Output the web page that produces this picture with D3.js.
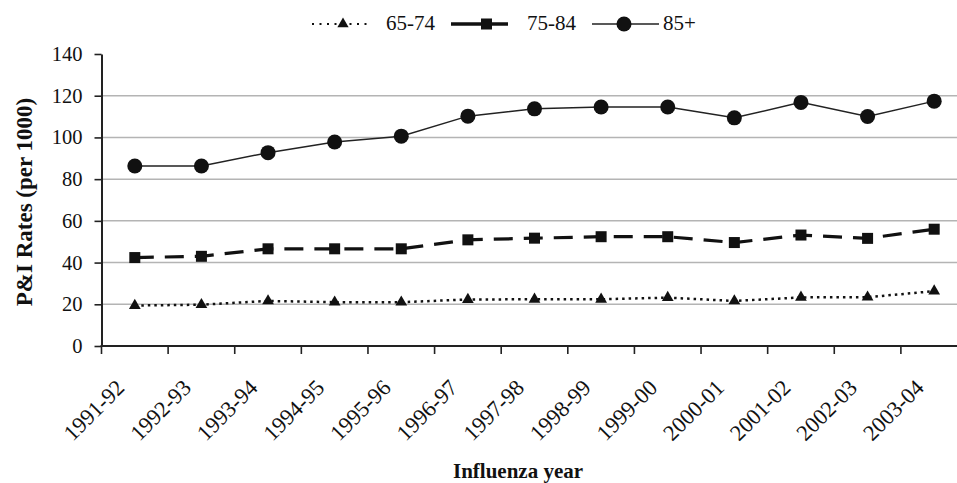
<!DOCTYPE html>
<html>
<head>
<meta charset="utf-8">
<script src="https://cdn.jsdelivr.net/npm/d3@7"></script>
<style>
  html, body { margin: 0; padding: 0; background: #fff; }
  svg { display: block; }
</style>
</head>
<body>
<svg id="chart" width="957" height="483"></svg>
<script>
const years = ['1991-92','1992-93','1993-94','1994-95','1995-96','1996-97','1997-98','1998-99','1999-00','2000-01','2001-02','2002-03','2003-04'];
const age65_74 = [19.4, 19.8, 21.6, 21.0, 21.0, 22.3, 22.4, 22.4, 23.2, 21.6, 23.3, 23.4, 26.3];
const age75_84 = [42.4, 43.0, 46.6, 46.6, 46.6, 50.9, 51.7, 52.4, 52.4, 49.6, 53.2, 51.6, 56.0];
const age85plus = [86.3, 86.3, 92.7, 97.8, 100.6, 110.2, 113.7, 114.6, 114.6, 109.4, 116.8, 110.0, 117.4];
const yTicks = [0, 20, 40, 60, 80, 100, 120, 140];
const seriesNames = ['65-74', '75-84', '85+'];

const svg = d3.select('#chart');
const FONT = '"Liberation Serif", "Times New Roman", serif';

const x = d3.scaleBand().domain(years).range([101.5, 967.5]).padding(0);
const y = d3.scaleLinear().domain([0, 140]).range([346, 54]);
const cx = d => x(d) + x.bandwidth() / 2;

// gridlines
svg.append('g').selectAll('line').data(yTicks.filter(v => v > 0 && v < 140)).join('line')
  .attr('x1', 101.5).attr('x2', 957)
  .attr('y1', d => y(d)).attr('y2', d => y(d))
  .attr('stroke', '#b4b4b4').attr('stroke-width', 1.5);

// y axis
const yAxis = svg.append('g').attr('transform', 'translate(101.5,0)')
  .call(d3.axisLeft(y).tickValues(yTicks).tickSize(7).tickPadding(12).tickSizeOuter(0));
yAxis.select('.domain').attr('stroke', '#222').attr('stroke-width', 2);
yAxis.selectAll('.tick line').attr('stroke', '#222').attr('stroke-width', 1.6);
yAxis.selectAll('.tick text').attr('font-family', FONT).attr('font-size', 20.5).attr('fill', '#111');

// x axis line and ticks at category boundaries
const xg = svg.append('g');
xg.append('line').attr('x1', 100.5).attr('x2', 957).attr('y1', y(0)).attr('y2', y(0))
  .attr('stroke', '#222').attr('stroke-width', 2);
xg.selectAll('line.tk').data(years).join('line').attr('class', 'tk')
  .attr('x1', d => x(d)).attr('x2', d => x(d))
  .attr('y1', y(0)).attr('y2', y(0) + 8)
  .attr('stroke', '#222').attr('stroke-width', 1.6);
xg.selectAll('text').data(years).join('text')
  .attr('transform', d => `translate(${cx(d) - 9},${389}) rotate(-45)`)
  .attr('text-anchor', 'end')
  .attr('font-family', FONT).attr('font-size', 22.5).attr('fill', '#111')
  .text(d => d);

// axis titles
svg.append('text')
  .attr('transform', 'translate(32,202) rotate(-90)')
  .attr('text-anchor', 'middle')
  .attr('font-family', FONT).attr('font-size', 23).attr('font-weight', 'bold').attr('fill', '#111')
  .text('P&I Rates (per 1000)');
svg.append('text')
  .attr('x', 518).attr('y', 478)
  .attr('text-anchor', 'middle')
  .attr('font-family', FONT).attr('font-size', 21).attr('font-weight', 'bold').attr('fill', '#111')
  .text('Influenza year');

const line = d3.line().x((d, i) => cx(years[i])).y(d => y(d));

// 65-74 dotted, triangles
svg.append('path').datum(age65_74).attr('d', line)
  .attr('fill', 'none').attr('stroke', '#111').attr('stroke-width', 2.5).attr('stroke-dasharray', '2.5,4');
svg.append('g').selectAll('path').data(age65_74).join('path')
  .attr('transform', (d, i) => `translate(${cx(years[i])},${y(d)})`)
  .attr('d', d3.symbol(d3.symbolTriangle, 60)).attr('fill', '#111');

// 75-84 dashed, squares
svg.append('path').datum(age75_84).attr('d', line)
  .attr('fill', 'none').attr('stroke', '#111').attr('stroke-width', 3.2).attr('stroke-dasharray', '19,11');
svg.append('g').selectAll('rect').data(age75_84).join('rect')
  .attr('x', (d, i) => cx(years[i]) - 5.5).attr('y', d => y(d) - 5.5)
  .attr('width', 11).attr('height', 11).attr('fill', '#111');

// 85+ solid, circles
svg.append('path').datum(age85plus).attr('d', line)
  .attr('fill', 'none').attr('stroke', '#222').attr('stroke-width', 1.5);
svg.append('g').selectAll('circle').data(age85plus).join('circle')
  .attr('cx', (d, i) => cx(years[i])).attr('cy', d => y(d)).attr('r', 7.5).attr('fill', '#111');

// legend
const lg = svg.append('g');
const ly = 24;
// 65-74
lg.append('line').attr('x1', 312).attr('x2', 371).attr('y1', ly).attr('y2', ly)
  .attr('stroke', '#111').attr('stroke-width', 2).attr('stroke-dasharray', '2,5.5');
lg.append('path').attr('transform', `translate(343,${ly})`).attr('d', d3.symbol(d3.symbolTriangle, 55)).attr('fill', '#111');
lg.append('text').attr('x', 386).attr('y', ly + 6).attr('font-family', FONT).attr('font-size', 21).attr('fill', '#111').text(seriesNames[0]);
// 75-84
lg.append('line').attr('x1', 451).attr('x2', 508).attr('y1', ly).attr('y2', ly)
  .attr('stroke', '#111').attr('stroke-width', 3.5);
lg.append('rect').attr('x', 481).attr('y', ly - 5.5).attr('width', 11).attr('height', 11).attr('fill', '#111');
lg.append('text').attr('x', 527).attr('y', ly + 6).attr('font-family', FONT).attr('font-size', 21).attr('fill', '#111').text(seriesNames[1]);
// 85+
lg.append('line').attr('x1', 592).attr('x2', 659).attr('y1', ly).attr('y2', ly)
  .attr('stroke', '#222').attr('stroke-width', 1.5);
lg.append('circle').attr('cx', 624).attr('cy', ly).attr('r', 7.5).attr('fill', '#111');
lg.append('text').attr('x', 663).attr('y', ly + 6).attr('font-family', FONT).attr('font-size', 21).attr('fill', '#111').text(seriesNames[2]);
</script>
</body>
</html>
